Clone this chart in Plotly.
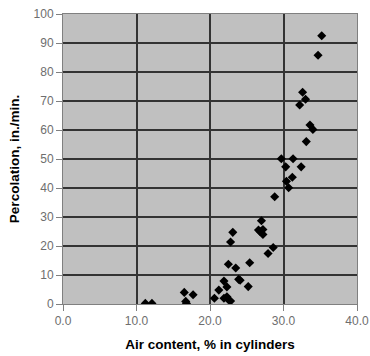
import plotly.graph_objects as go

air_content = [11.2, 12.1, 16.5, 17.7, 16.7, 16.8, 20.6, 21.2, 21.9, 22.3, 21.9, 22.3,
               22.8, 22.5, 23.5, 23.9, 24.1, 25.2, 25.4, 22.8, 23.1, 27.9, 28.6, 26.6,
               27.0, 27.2, 27.2, 26.8, 28.8, 29.7, 30.3, 31.3, 32.4, 31.2, 30.4, 30.7,
               33.1, 33.6, 34.0, 32.2, 33.0, 32.6, 34.7, 35.2, 22.5]
percolation = [0.2, 0.2, 4.0, 3.2, 0.9, 0.2, 2.0, 4.8, 7.9, 5.9, 2.0, 2.5,
               1.0, 13.7, 12.4, 8.5, 8.2, 6.0, 14.2, 21.4, 24.7, 17.4, 19.5, 25.5,
               28.7, 25.7, 24.0, 25.0, 37.0, 50.1, 47.3, 50.1, 47.3, 43.7, 42.3, 40.1,
               56.0, 61.7, 60.2, 68.6, 70.6, 73.0, 85.8, 92.5, 1.5]

x_ticks = [0, 10, 20, 30, 40]
x_tick_labels = ["0.0", "10.0", "20.0", "30.0", "40.0"]
y_ticks = [0, 10, 20, 30, 40, 50, 60, 70, 80, 90, 100]

fig = go.Figure()
fig.add_trace(go.Scatter(
    x=air_content, y=percolation, mode="markers",
    marker=dict(symbol="diamond", size=7, color="black"),
    showlegend=False,
))

fig.update_layout(
    width=370, height=356,
    margin=dict(l=63, r=13, t=14, b=52),
    paper_bgcolor="white",
    plot_bgcolor="#c0c0c0",
    font=dict(family="Liberation Sans, Arial, sans-serif"),
)
fig.update_xaxes(
    range=[0, 40], tickvals=x_ticks, ticktext=x_tick_labels, automargin=False,
    showgrid=True, gridcolor="#333333", gridwidth=1.5,
    zeroline=False, showline=True, linecolor="#808080", linewidth=1, mirror=True,
    ticks="outside", ticklen=6, tickcolor="#808080",
    tickfont=dict(size=12, color="#6e6e6e"),
    title=dict(text="<b>Air content, % in cylinders</b>", font=dict(size=13.5, color="black"), standoff=12),
)
fig.update_yaxes(
    range=[0, 100], tickvals=y_ticks, automargin=False,
    showgrid=True, gridcolor="#333333", gridwidth=1.5,
    zeroline=False, showline=True, linecolor="#808080", linewidth=1, mirror=True,
    ticks="outside", ticklen=6, tickcolor="#808080",
    tickfont=dict(size=12, color="#6e6e6e"),
    title=dict(text="<b>Percolation, in./min.</b>", font=dict(size=13.5, color="black"), standoff=10),
)

fig.write_html("out.html")
